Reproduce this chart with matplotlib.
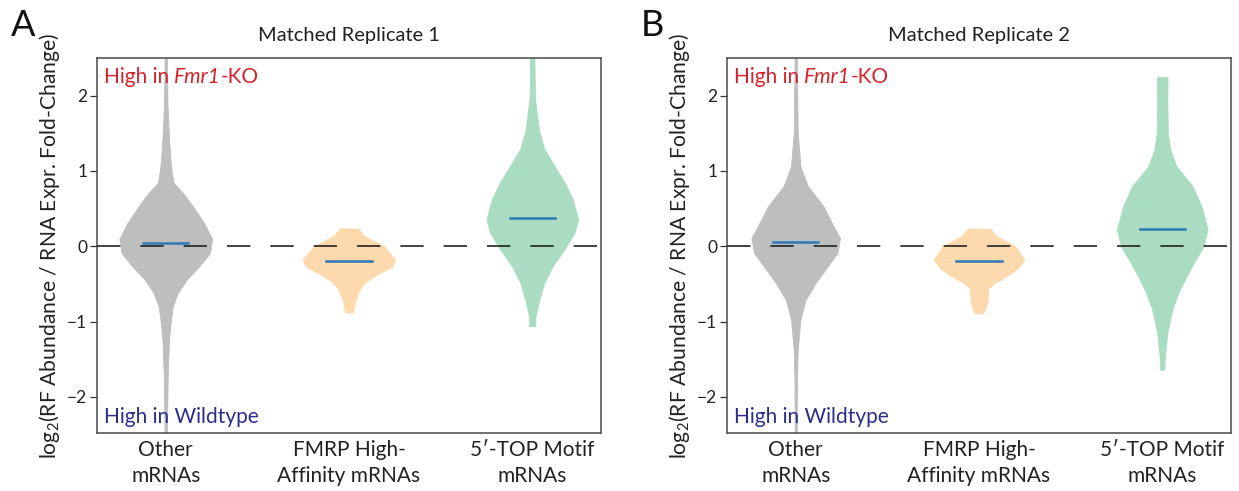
import numpy as np
import matplotlib
matplotlib.use("Agg")
import matplotlib.pyplot as plt

plt.rcParams['font.family'] = ['Lato', 'DejaVu Sans']
plt.rcParams['mathtext.fontset'] = 'custom'
plt.rcParams['mathtext.rm'] = 'Lato'
plt.rcParams['mathtext.it'] = 'Lato:italic'

categories = ["Other\nmRNAs", "FMRP High-\nAffinity mRNAs", "5\u2032-TOP Motif\nmRNAs"]
titles = ["Matched Replicate 1", "Matched Replicate 2"]
panel_letters = ["A", "B"]

# violin outlines: y value and relative half-width
other_y_1 = [2.6, 1.9, 1.42, 1.1, 0.98, 0.84, 0.71, 0.53, 0.31, 0.1, -0.09, -0.27, -0.44, -0.62, -0.8, -1.0, -1.24, -1.69, -2.6]
other_w_1 = [1, 1.7, 3.3, 5, 6, 8, 17, 27, 38, 46, 44, 33, 21, 12, 7, 5, 3.3, 2, 1]
fmrp_y_1 = [0.236, 0.14, 0.0, -0.18, -0.27, -0.36, -0.45, -0.54, -0.62, -0.76, -0.88]
fmrp_w_1 = [9, 15, 35, 46, 43, 30, 19, 12, 9, 5.5, 4]
top_y_1 = [2.6, 1.96, 1.52, 1.29, 1.07, 0.85, 0.63, 0.36, 0.18, -0.04, -0.26, -0.48, -0.71, -0.93, -1.06]
top_w_1 = [2, 2.7, 7, 12, 22, 32, 40, 45.5, 42, 32, 20.5, 12, 7, 3.2, 3]

other_y_2 = [2.6, 1.5, 1.06, 0.8, 0.53, 0.27, 0.11, -0.09, -0.27, -0.49, -0.71, -0.97, -1.37, -1.8, -2.6]
other_w_2 = [1, 2, 4.7, 12, 27.6, 37.4, 44, 41.4, 31.5, 19.7, 9.9, 4.7, 2, 1.2, 1]
fmrp_y_2 = [0.235, 0.14, 0.0, -0.18, -0.3, -0.4, -0.5, -0.56, -0.65, -0.75, -0.84, -0.89]
fmrp_w_2 = [11, 17, 36, 45, 38, 27, 14, 9, 9, 8, 6, 4]
top_y_2 = [2.25, 1.95, 1.5, 1.28, 1.06, 0.8, 0.53, 0.22, 0.0, -0.18, -0.4, -0.62, -0.84, -1.15, -1.5, -1.64]
top_w_2 = [5.3, 5, 5.5, 8, 14, 30, 39, 45, 41, 33, 24, 16, 10, 5, 2.4, 2]

medians_1 = [0.04, -0.20, 0.37]
medians_2 = [0.05, -0.19, 0.23]

colors = ["#bcbec0", "#fdd9ae", "#a9dcc1"]
width_scale = 0.25 / 45.5
positions = [0, 1, 2]

panels = [
    ([(other_y_1, other_w_1), (fmrp_y_1, fmrp_w_1), (top_y_1, top_w_1)], medians_1),
    ([(other_y_2, other_w_2), (fmrp_y_2, fmrp_w_2), (top_y_2, top_w_2)], medians_2),
]

fig = plt.figure(figsize=(12.39, 4.91), dpi=100)
lefts = [97 / 1239, 727 / 1239]

for k, (violins, meds) in enumerate(panels):
    ax = fig.add_axes([lefts[k], 58 / 491, 504 / 1239, 375 / 491])
    for pos, (vy, vw), col, m in zip(positions, violins, colors, meds):
        vy = np.array(vy)
        hw = np.array(vw) * width_scale
        ax.fill_betweenx(vy, pos - hw, pos + hw, color=col, lw=0.6, edgecolor=col)
        ax.plot([pos - 0.123, pos + 0.123], [m, m], color="#2f79b5", lw=1.8, zorder=4)
    ax.axhline(0, color="#222222", lw=1.2, dashes=(14, 12), zorder=3)
    ax.set_xlim(-0.375, 2.375)
    ax.set_ylim(-2.48, 2.5)
    ax.set_yticks([-2, -1, 0, 1, 2])
    ax.set_yticklabels(["\u22122", "\u22121", "0", "1", "2"])
    ax.set_xticks(positions)
    ax.set_xticklabels(categories, fontsize=15, color="#222222", linespacing=1.4)
    ax.tick_params(axis="x", length=0, pad=5)
    ax.tick_params(axis="y", length=5, width=0.9, labelsize=12.5, color="#333333",
                   labelcolor="#222222", pad=2)
    for s in ax.spines.values():
        s.set_color("#4a4a4a")
        s.set_linewidth(1.1)
    ax.set_ylabel(r"log$_2$(RF Abundance / RNA Expr. Fold-Change)", fontsize=15.2,
                  color="#222222", labelpad=4)
    ax.set_title(titles[k], fontsize=14.5, color="#222222", pad=12)

    # red label built from three pieces so the gene name is italic
    t1 = ax.text(0.013, 0.975, "High in ", transform=ax.transAxes,
                 color="#d7242b", fontsize=15, va="top", ha="left")
    t2 = ax.annotate("Fmr1", xy=(1, 0), xycoords=t1, va="bottom", ha="left",
                     color="#d7242b", fontsize=15, style="italic")
    ax.annotate("-KO", xy=(1, 0), xycoords=t2, va="bottom", ha="left",
                color="#d7242b", fontsize=15)
    ax.text(0.013, 0.015, "High in Wildtype", transform=ax.transAxes,
            color="#2c2e8a", fontsize=15, va="bottom", ha="left")
    fig.text(lefts[k] - 86 / 1239, 1 - 9 / 491, panel_letters[k], fontsize=26,
             va="top", ha="left", color="#111111")

fig.savefig("out.png", dpi=100)
